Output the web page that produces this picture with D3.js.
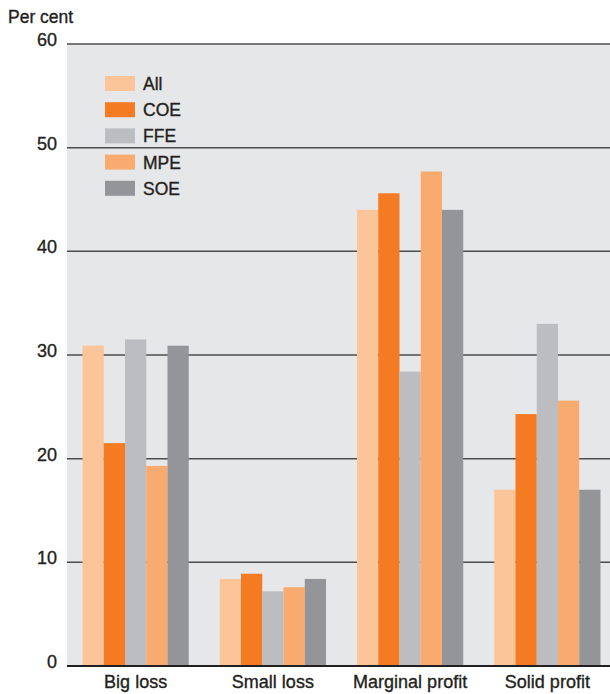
<!DOCTYPE html>
<html>
<head>
<meta charset="utf-8">
<script src="https://cdn.jsdelivr.net/npm/d3@7"></script>
<style>
html,body{margin:0;padding:0;background:#fff;}
svg{display:block;font-family:"Liberation Sans",Arial,Helvetica,sans-serif;}
.t{stroke:#231f20;stroke-width:0.35px;fill:#231f20;}
</style>
</head>
<body>
<svg id="chart" width="610" height="694"></svg>
<script>
const categories = ["Big loss", "Small loss", "Marginal profit", "Solid profit"];
const seriesNames = ["All", "COE", "FFE", "MPE", "SOE"];
const seriesColors = ["#FCC599", "#F47B22", "#BCBDC0", "#F9AA6E", "#949598"];
const valuesAll = [30.9, 8.4, 44.0, 17.0];
const valuesCOE = [21.5, 8.9, 45.6, 24.3];
const valuesFFE = [31.5, 7.2, 28.4, 33.0];
const valuesMPE = [19.3, 7.6, 47.7, 25.6];
const valuesSOE = [30.9, 8.4, 44.0, 17.0];
const yTicks = [0, 10, 20, 30, 40, 50, 60];
const yLabel = "Per cent";

const seriesValues = [valuesAll, valuesCOE, valuesFFE, valuesMPE, valuesSOE];

const svg = d3.select("#chart");
const plotLeft = 67, plotRight = 616, plotTop = 44, plotBottom = 666;

const y = d3.scaleLinear().domain([0, 60]).range([plotBottom, plotTop]);
const x0 = d3.scaleBand().domain(categories).range([plotLeft, plotRight])
  .paddingInner(0.226).paddingOuter(0.113);
const x1 = d3.scaleBand().domain(seriesNames).range([0, x0.bandwidth()]);

// background
svg.append("rect").attr("x", plotLeft).attr("y", plotTop)
  .attr("width", 610 - plotLeft).attr("height", plotBottom - plotTop)
  .attr("fill", "#E6E7E8");

// gridlines
svg.append("g").selectAll("line").data(yTicks.filter(d => d > 0)).join("line")
  .attr("x1", plotLeft).attr("x2", 610)
  .attr("y1", d => y(d)).attr("y2", d => y(d))
  .attr("stroke", "#4d4d4f").attr("stroke-width", 1.5);

// bars
const groups = svg.append("g").selectAll("g").data(categories).join("g")
  .attr("transform", c => `translate(${x0(c)},0)`);
groups.selectAll("rect")
  .data((c, ci) => seriesNames.map((s, si) => ({s, si, v: seriesValues[si][ci]})))
  .join("rect")
  .attr("x", d => x1(d.s))
  .attr("width", x1.bandwidth())
  .attr("y", d => y(d.v))
  .attr("height", d => y(0) - y(d.v))
  .attr("fill", d => seriesColors[d.si]);

// zero axis line
svg.append("line").attr("x1", plotLeft).attr("x2", 610)
  .attr("y1", y(0)).attr("y2", y(0))
  .attr("stroke", "#231f20").attr("stroke-width", 2.2);

// y tick labels
svg.append("g").selectAll("text").data(yTicks).join("text")
  .attr("class", "t")
  .attr("x", 57).attr("y", d => y(d) + 2)
  .attr("text-anchor", "end")
  .attr("font-size", 18)
  .text(d => d);

// y label
svg.append("text").attr("class", "t").attr("x", 8).attr("y", 23)
  .attr("font-size", 17.5).text(yLabel);

// category labels
svg.append("g").selectAll("text").data(categories).join("text")
  .attr("class", "t")
  .attr("x", c => x0(c) + x0.bandwidth() / 2)
  .attr("y", 688)
  .attr("text-anchor", "middle")
  .attr("font-size", 18)
  .text(c => c);

// legend
const legend = svg.append("g").selectAll("g").data(seriesNames).join("g")
  .attr("transform", (d, i) => `translate(105,${76 + i * 26.2})`);
legend.append("rect").attr("width", 30).attr("height", 15)
  .attr("fill", (d, i) => seriesColors[i]);
legend.append("text").attr("class", "t").attr("x", 38).attr("y", 14)
  .attr("font-size", 17.5).text(d => d);
</script>
</body>
</html>
